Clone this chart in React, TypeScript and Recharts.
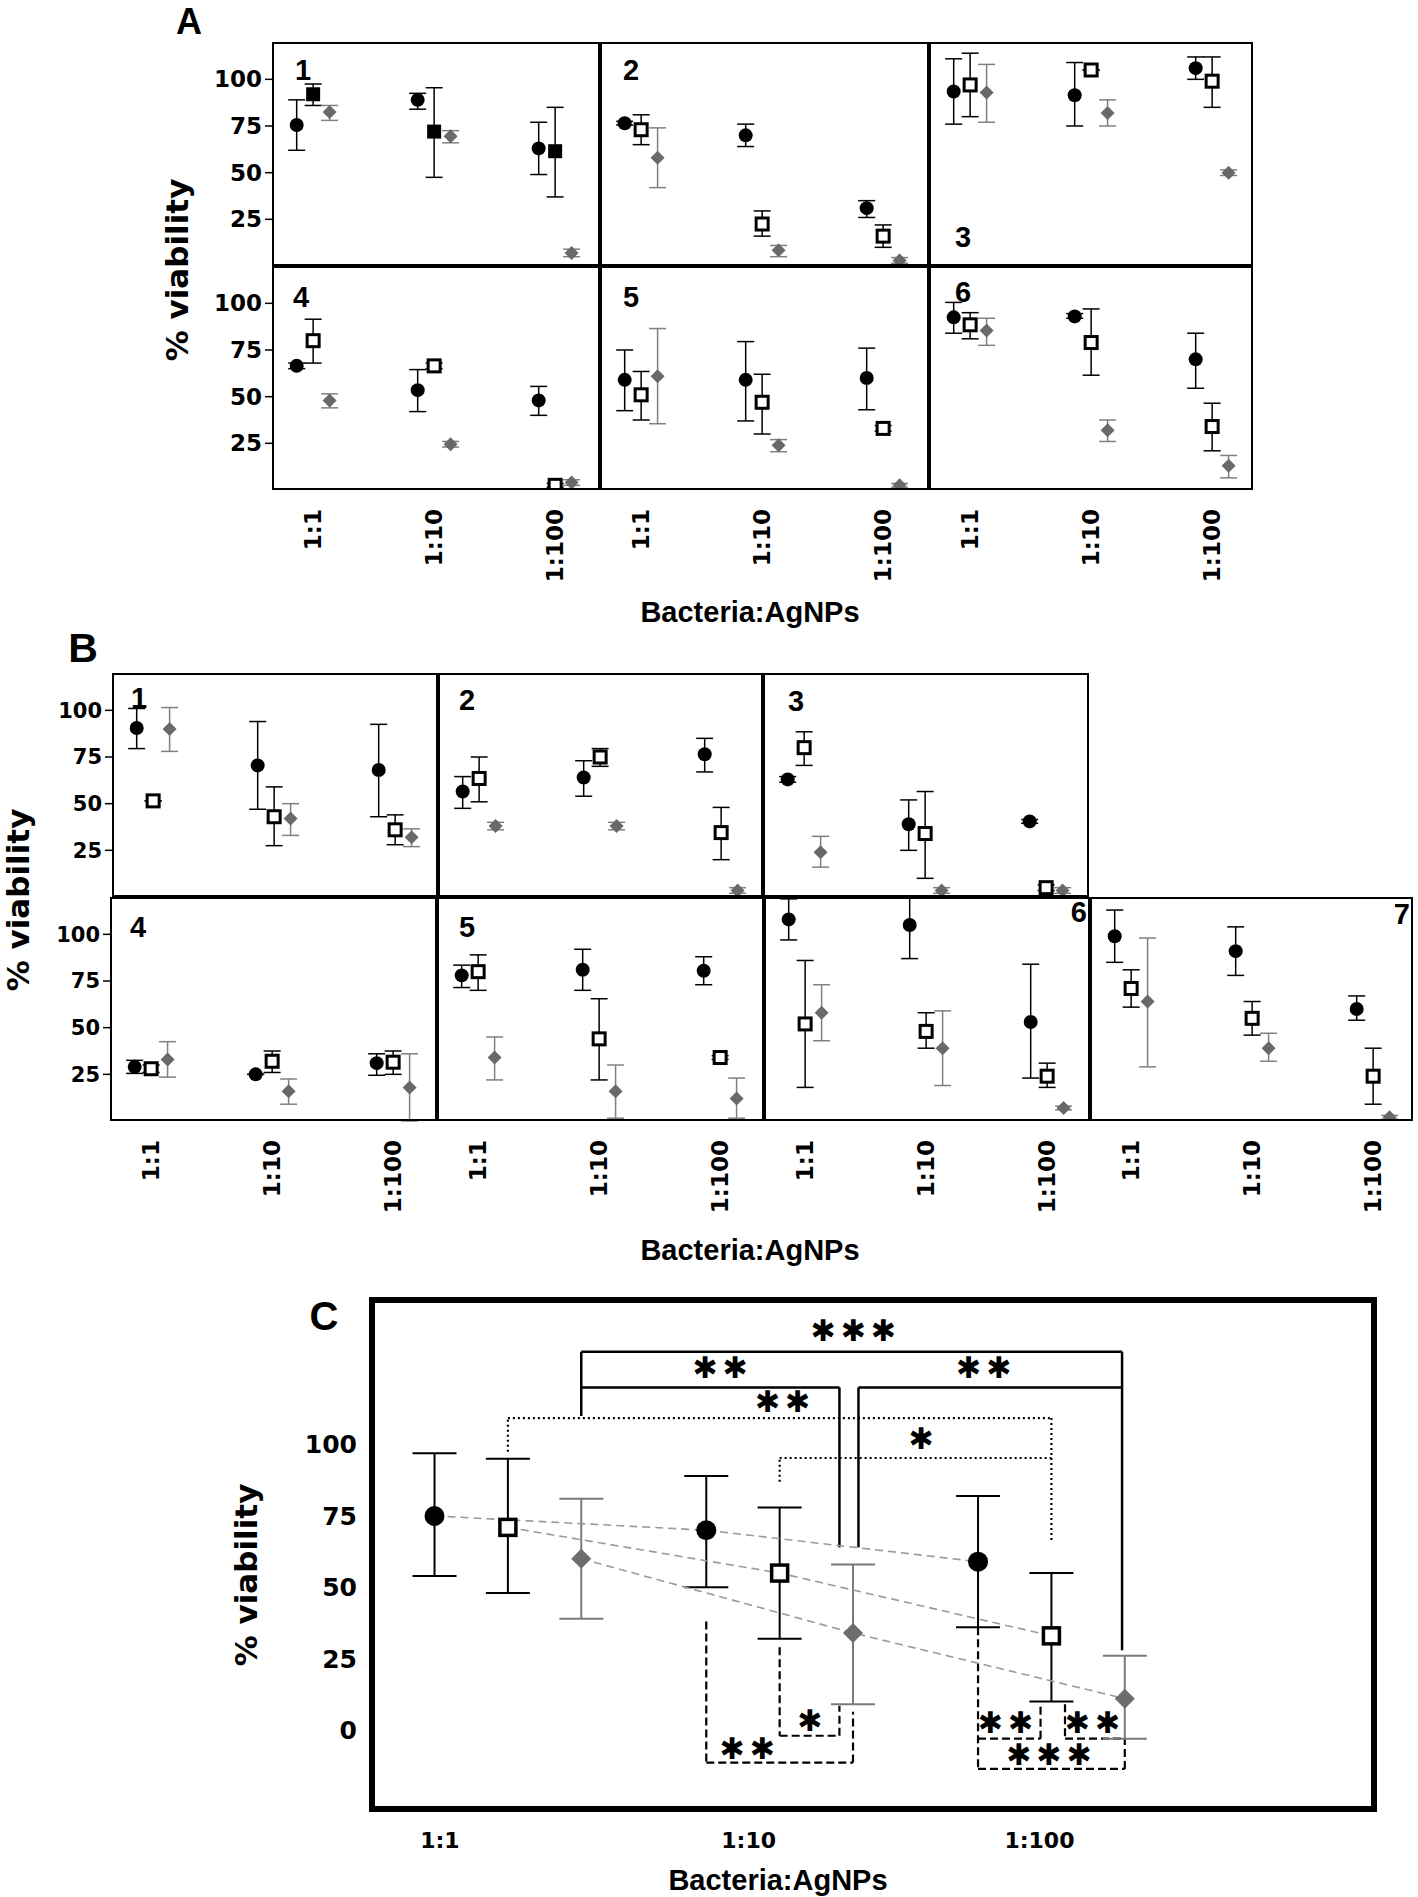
import React from 'react';
import { ScatterChart, Scatter, XAxis, YAxis, ErrorBar, ReferenceLine } from 'recharts';

type Pt = [number, number, number]; // value, lower end, upper end

const CATEGORIES = ['1:1', '1:10', '1:100'];
const Y_TICKS = [25, 50, 75, 100];
const C_Y_TICKS = [0, 25, 50, 75, 100];
const C_X_TICKS = [0.75, 1.886, 2.956];

// ---------- Panel A ----------
const A1_circle: Pt[] = [[75.5, 62, 89], [89, 84, 92.5], [63, 49, 77]];
const A1_square: Pt[] = [[92, 86, 97.5], [72, 47.5, 95.5], [61.5, 37, 85]];
const A1_diamond: Pt[] = [[82.5, 78, 86], [69.5, 66, 72.5], [7, 5, 9]];

const A2_circle: Pt[] = [[76.5, 75.5, 77.5], [70, 64, 76], [31, 26, 35]];
const A2_square: Pt[] = [[73, 65, 81], [22.5, 16, 29.5], [16, 10, 22]];
const A2_diamond: Pt[] = [[58, 42, 74], [8.5, 5, 11], [3, 1.5, 4.5]];

const A3_circle: Pt[] = [[93.5, 76, 111], [91.5, 75, 109], [106, 100, 112]];
const A3_square: Pt[] = [[97, 80, 114], [105, 105, 105], [99, 85, 112]];
const A3_diamond: Pt[] = [[93, 77, 108], [82, 75, 89], [50, 48.5, 51.5]];

const A4_circle: Pt[] = [[66.5, 65, 68], [53.5, 42, 64.5], [48, 40, 55.5]];
const A4_square: Pt[] = [[80, 68, 91.5], [66.5, 65, 68], [2.5, 1.5, 3.5]];
const A4_diamond: Pt[] = [[48, 44, 51.5], [24.5, 23, 26], [4, 2.5, 5.5]];

const A5_circle: Pt[] = [[59, 42.5, 75], [59, 37, 79.5], [60, 43, 76]];
const A5_square: Pt[] = [[51, 37.5, 63.5], [47, 30, 62], [33, 31.5, 34.5]];
const A5_diamond: Pt[] = [[61, 35.5, 86.5], [24, 20.5, 27], [2.5, 1.5, 3.5]];

const A6_circle: Pt[] = [[92.5, 84, 100.5], [93, 92, 94.5], [70, 54.5, 84]];
const A6_square: Pt[] = [[88.5, 81, 95], [79, 61.5, 97], [34, 21, 46.5]];
const A6_diamond: Pt[] = [[85.5, 77.5, 92], [32, 26, 37.5], [13, 6.5, 18.5]];

// ---------- Panel B ----------
const B1_circle: Pt[] = [[90.5, 79.5, 101], [70.5, 47, 94], [68, 43, 92.5]];
const B1_square: Pt[] = [[51.5, 51.5, 51.5], [43, 27.5, 59], [36, 28, 44]];
const B1_diamond: Pt[] = [[90, 78, 101.5], [42, 33, 50], [32, 27, 36.5]];

const B2_circle: Pt[] = [[56.5, 47.5, 64.5], [64, 54, 73], [76.5, 67, 85]];
const B2_square: Pt[] = [[63.5, 51, 75], [75, 70, 79.5], [34.5, 20, 48]];
const B2_diamond: Pt[] = [[38, 36, 40], [38, 36, 40], [3.5, 2, 5]];

const B3_circle: Pt[] = [[63, 61.5, 64.5], [39, 25, 52], [40.5, 39.5, 41.5]];
const B3_square: Pt[] = [[80, 70.5, 88.5], [34, 10, 56.5], [5, 3.5, 6.5]];
const B3_diamond: Pt[] = [[24, 16, 32.5], [3.5, 2, 5], [3.5, 2, 5]];

const B4_circle: Pt[] = [[29, 25.5, 32.5], [25, 25, 25], [31, 24.5, 36]];
const B4_square: Pt[] = [[28, 26, 30], [32, 26, 37.5], [31.5, 25, 37.5]];
const B4_diamond: Pt[] = [[33, 23.5, 42.5], [16, 9, 22.5], [18, 0, 36]];

const B5_circle: Pt[] = [[78, 71.5, 83.5], [81, 70, 92], [80.5, 73, 88]];
const B5_square: Pt[] = [[80, 70, 89], [44, 22, 65.5], [34, 33, 35]];
const B5_diamond: Pt[] = [[34, 22, 45], [16, 1.5, 30], [12, 1.5, 23]];

const B6_circle: Pt[] = [[108, 97, 119], [105, 87, 120], [53, 23, 84]];
const B6_square: Pt[] = [[52, 18, 86], [48, 39, 58], [24, 18, 31]];
const B6_diamond: Pt[] = [[58, 43, 73], [39, 19, 59], [7, 6, 8]];

const B7_circle: Pt[] = [[99, 85, 113], [91, 78, 104], [60, 54, 67]];
const B7_square: Pt[] = [[71, 61, 81], [55, 46, 64], [24, 9, 39]];
const B7_diamond: Pt[] = [[64, 29, 98], [39, 32, 47], [2, 1, 3]];

// ---------- Panel C ----------
const C_circle: Pt[] = [[75, 54, 97], [70, 50, 89], [59, 36, 82]];
const C_square: Pt[] = [[71, 48, 95], [55, 32, 78], [33, 10, 55]];
const C_diamond: Pt[] = [[60, 39, 81], [34, 9, 58], [11, -3, 26]];

type Seg = [number, number, number, number];
const C_SOLID: Seg[] = [
  [1.27, 110, 1.27, 132.5], [1.27, 132.5, 3.26, 132.5], [3.26, 132.5, 3.26, 28],
  [1.27, 120, 2.22, 120], [2.22, 120, 2.22, 64],
  [2.29, 120, 3.26, 120], [2.29, 120, 2.29, 64],
];
const C_DOTTED: Seg[] = [
  [1.0, 97.5, 1.0, 109.3], [1.0, 109.3, 3.0, 109.3], [3.0, 109.3, 3.0, 66],
  [2.0, 87, 2.0, 95.3], [2.0, 95.3, 3.0, 95.3],
];
const C_DASHED: Seg[] = [
  [1.73, 38, 1.73, -11.4], [1.73, -11.4, 2.27, -11.4], [2.27, -11.4, 2.27, 6.4],
  [2.0, 29, 2.0, -2], [2.0, -2, 2.22, -2], [2.22, -2, 2.22, 8.5],
  [2.73, 36, 2.73, -13.6], [2.73, -3, 2.96, -3], [2.96, -3, 2.96, 9],
  [3.05, 9, 3.05, -3], [3.05, -3, 3.27, -3],
  [2.73, -13.6, 3.27, -13.6], [3.27, -13.6, 3.27, -3],
];
const C_STAR_X = [2.28, 1.79, 2.76, 2.02, 2.53, 1.89, 2.12, 2.84, 3.16, 3.0];
const C_STAR_Y = [140, 127, 127, 115, 102, -6.5, 3.5, 2.5, 2.5, -8.5];
const C_STAR_TEXT = ['✱✱✱', '✱✱', '✱✱', '✱✱', '✱', '✱✱', '✱', '✱✱', '✱✱', '✱✱✱'];

// ---------- helpers ----------
const FONT = '"Liberation Sans", Arial, sans-serif';
const WIDE = '"DejaVu Sans", Verdana, sans-serif';
const OFF = 0.136;
const C_OFF = 0.27;
const YW = 72;
const XH = 110;
const PH = 224;

const toRows = (pts: Pt[], off: number) =>
  pts.map((p, i) => ({ x: i + 1 + off, y: p[0], err: [p[0] - p[1], p[2] - p[0]] }));

const CircleShape = (p: any) => <circle cx={p.cx} cy={p.cy} r={7} fill="#000" />;
const OpenSquareShape = (p: any) => (
  <rect x={p.cx - 6} y={p.cy - 6} width={12} height={12} fill="#fff" stroke="#000" strokeWidth={3} />
);
const FilledSquareShape = (p: any) => <rect x={p.cx - 7} y={p.cy - 7} width={14} height={14} fill="#000" />;
const DiamondShape = (p: any) => (
  <polygon
    points={`${p.cx},${p.cy - 7} ${p.cx + 7},${p.cy} ${p.cx},${p.cy + 7} ${p.cx - 7},${p.cy}`}
    fill="#696969"
  />
);
const BigCircle = (p: any) => <circle cx={p.cx} cy={p.cy} r={10} fill="#000" />;
const BigSquare = (p: any) => (
  <rect x={p.cx - 8} y={p.cy - 8} width={16} height={16} fill="#fff" stroke="#000" strokeWidth={3.5} />
);
const BigDiamond = (p: any) => (
  <polygon
    points={`${p.cx},${p.cy - 10} ${p.cx + 10},${p.cy} ${p.cx},${p.cy + 10} ${p.cx - 10},${p.cy}`}
    fill="#6d6d6d"
  />
);
const StarShape = (p: any) => {
  const t = (p.payload && p.payload.t) || p.t;
  return (
    <text x={p.cx} y={p.cy} textAnchor="middle" dominantBaseline="central" fontFamily={WIDE}
      fontSize={30} letterSpacing={5} fill="#000">{t}</text>
  );
};

const rotTick = (props: any) => {
  const { x, y, payload } = props;
  const label = CATEGORIES[Math.round(payload.value) - 1];
  const yy = y + 19;
  return (
    <text x={x} y={yy} transform={`rotate(-90 ${x} ${yy})`} textAnchor="end" dominantBaseline="central"
      fontFamily={WIDE} fontWeight={700} fontSize={23} fill="#000">{label}</text>
  );
};

interface PanelDef {
  left: number; top: number; w: number;
  circle: Pt[]; square: Pt[]; diamond: Pt[];
  filled?: boolean; yAxis?: boolean; xAxis?: boolean; yFont: number;
}

function Panel({ d }: { d: PanelDef }) {
  const chartLeft = d.left - (d.yAxis ? YW : 0);
  const width = d.w + (d.yAxis ? YW : 0);
  const height = PH + (d.xAxis ? XH : 0);
  const domain: [number, number] = [0.66, 0.66 + d.w / 121];
  return (
    <div style={{ position: 'absolute', left: chartLeft, top: d.top }}>
      <ScatterChart width={width} height={height} margin={{ top: 0, right: 0, bottom: 0, left: 0 }}>
        <XAxis type="number" dataKey="x" domain={domain} allowDataOverflow hide={!d.xAxis}
          ticks={[1, 2, 3]} interval={0} height={XH} tickSize={0} tickMargin={0}
          axisLine={false} tickLine={false} tick={rotTick} />
        <YAxis type="number" dataKey="y" domain={[0, 120]} allowDataOverflow hide={!d.yAxis}
          width={YW} ticks={Y_TICKS} interval={0} tickSize={7} tickMargin={3} axisLine={false}
          tickLine={{ stroke: '#000', strokeWidth: 1.5 }}
          tick={{ fill: '#000', fontSize: d.yFont, fontWeight: 700, fontFamily: WIDE }} />
        <Scatter data={toRows(d.circle, -OFF)} shape={CircleShape} isAnimationActive={false}>
          <ErrorBar dataKey="err" direction="y" width={8.5} stroke="#000" strokeWidth={1.5} />
        </Scatter>
        <Scatter data={toRows(d.square, 0)} shape={d.filled ? FilledSquareShape : OpenSquareShape} isAnimationActive={false}>
          <ErrorBar dataKey="err" direction="y" width={8.5} stroke="#000" strokeWidth={1.5} />
        </Scatter>
        <Scatter data={toRows(d.diamond, OFF)} shape={DiamondShape} isAnimationActive={false}>
          <ErrorBar dataKey="err" direction="y" width={8.5} stroke="#808080" strokeWidth={1.5} />
        </Scatter>
      </ScatterChart>
      <div style={{ position: 'absolute', left: d.yAxis ? YW : 0, top: 0, width: d.w, height: PH,
        border: '2.5px solid #000', boxSizing: 'border-box', pointerEvents: 'none' }} />
    </div>
  );
}

const PANELS: PanelDef[] = [
  { left: 272, top: 42, w: 328, circle: A1_circle, square: A1_square, diamond: A1_diamond, filled: true, yAxis: true, yFont: 23 },
  { left: 600, top: 42, w: 329, circle: A2_circle, square: A2_square, diamond: A2_diamond, yFont: 23 },
  { left: 929, top: 42, w: 324, circle: A3_circle, square: A3_square, diamond: A3_diamond, yFont: 23 },
  { left: 272, top: 266, w: 328, circle: A4_circle, square: A4_square, diamond: A4_diamond, yAxis: true, xAxis: true, yFont: 23 },
  { left: 600, top: 266, w: 329, circle: A5_circle, square: A5_square, diamond: A5_diamond, xAxis: true, yFont: 23 },
  { left: 929, top: 266, w: 324, circle: A6_circle, square: A6_square, diamond: A6_diamond, xAxis: true, yFont: 23 },
  { left: 112, top: 673, w: 326, circle: B1_circle, square: B1_square, diamond: B1_diamond, yAxis: true, yFont: 21 },
  { left: 438, top: 673, w: 325, circle: B2_circle, square: B2_square, diamond: B2_diamond, yFont: 21 },
  { left: 763, top: 673, w: 326, circle: B3_circle, square: B3_square, diamond: B3_diamond, yFont: 21 },
  { left: 110, top: 897, w: 327, circle: B4_circle, square: B4_square, diamond: B4_diamond, yAxis: true, xAxis: true, yFont: 21 },
  { left: 437, top: 897, w: 327, circle: B5_circle, square: B5_square, diamond: B5_diamond, xAxis: true, yFont: 21 },
  { left: 764, top: 897, w: 326, circle: B6_circle, square: B6_square, diamond: B6_diamond, xAxis: true, yFont: 21 },
  { left: 1090, top: 897, w: 323, circle: B7_circle, square: B7_square, diamond: B7_diamond, xAxis: true, yFont: 21 },
];

const PANEL_NUMBERS = ['1', '2', '3', '4', '5', '6', '1', '2', '3', '4', '5', '6', '7'];
const NUM_POS: [number, number, 'start' | 'end'][] = [
  [295, 80, 'start'], [623, 80, 'start'], [955, 247, 'start'],
  [293, 307, 'start'], [623, 307, 'start'], [955, 302, 'start'],
  [131, 708, 'start'], [459, 710, 'start'], [788, 711, 'start'],
  [130, 937, 'start'], [459, 937, 'start'], [1087, 922, 'end'], [1410, 924, 'end'],
];

// Panel C geometry
const C_LEFT = 375, C_TOP = 1303, C_W = 996, C_H = 503;
const C_YW = 100, C_XH = 80;

const cTick = (props: any) => {
  const { x, y, index } = props;
  return (
    <text x={x} y={y + 34} textAnchor="middle" dominantBaseline="central" fontFamily={WIDE}
      fontWeight={700} fontSize={22} fill="#000">{CATEGORIES[index]}</text>
  );
};

function PanelC() {
  const starRows = C_STAR_X.map((x, i) => ({ x, y: C_STAR_Y[i], t: C_STAR_TEXT[i] }));
  return (
    <div style={{ position: 'absolute', left: C_LEFT - C_YW, top: C_TOP }}>
      <ScatterChart width={C_W + C_YW} height={C_H + C_XH} margin={{ top: 0, right: 0, bottom: 0, left: 0 }}>
        <XAxis type="number" dataKey="x" domain={[0.511, 4.176]} allowDataOverflow ticks={C_X_TICKS}
          interval={0} height={C_XH} tickSize={0} tickMargin={0} axisLine={false} tickLine={false} tick={cTick} />
        <YAxis type="number" dataKey="y" domain={[-26.6, 149.6]} allowDataOverflow ticks={C_Y_TICKS}
          interval={0} width={C_YW} tickSize={0} tickMargin={18} axisLine={false} tickLine={false}
          tick={{ fill: '#000', fontSize: 25, fontWeight: 700, fontFamily: WIDE }} />
        {C_SOLID.map((s, i) => (
          <ReferenceLine key={'s' + i} segment={[{ x: s[0], y: s[1] }, { x: s[2], y: s[3] }]}
            stroke="#000" strokeWidth={2.5} ifOverflow="visible" />
        ))}
        {C_DOTTED.map((s, i) => (
          <ReferenceLine key={'d' + i} segment={[{ x: s[0], y: s[1] }, { x: s[2], y: s[3] }]}
            stroke="#000" strokeWidth={2.2} strokeDasharray="2 3" ifOverflow="visible" />
        ))}
        {C_DASHED.map((s, i) => (
          <ReferenceLine key={'h' + i} segment={[{ x: s[0], y: s[1] }, { x: s[2], y: s[3] }]}
            stroke="#000" strokeWidth={2.2} strokeDasharray="8 4" ifOverflow="visible" />
        ))}
        <Scatter data={toRows(C_circle, -C_OFF)} shape={BigCircle} isAnimationActive={false}
          line={{ stroke: '#9a9a9a', strokeWidth: 1.6, strokeDasharray: '8 5' }} lineType="joint">
          <ErrorBar dataKey="err" direction="y" width={22} stroke="#000" strokeWidth={2} />
        </Scatter>
        <Scatter data={toRows(C_square, 0)} shape={BigSquare} isAnimationActive={false}
          line={{ stroke: '#9a9a9a', strokeWidth: 1.6, strokeDasharray: '8 5' }} lineType="joint">
          <ErrorBar dataKey="err" direction="y" width={22} stroke="#000" strokeWidth={2} />
        </Scatter>
        <Scatter data={toRows(C_diamond, C_OFF)} shape={BigDiamond} isAnimationActive={false}
          line={{ stroke: '#9a9a9a', strokeWidth: 1.6, strokeDasharray: '8 5' }} lineType="joint">
          <ErrorBar dataKey="err" direction="y" width={22} stroke="#7a7a7a" strokeWidth={2} />
        </Scatter>
        <Scatter data={starRows} shape={StarShape} isAnimationActive={false} />
      </ScatterChart>
      <div style={{ position: 'absolute', left: C_YW - 6, top: -6, width: C_W + 12, height: C_H + 12,
        border: '6px solid #000', boxSizing: 'border-box', pointerEvents: 'none' }} />
    </div>
  );
}

export default function App() {
  return (
    <div style={{ position: 'absolute', left: 0, top: 0, width: 1418, height: 1897, background: '#fff', fontFamily: FONT }}>
      {PANELS.map((d, i) => <Panel key={i} d={d} />)}
      <PanelC />
      <svg width={1418} height={1897} style={{ position: 'absolute', left: 0, top: 0, pointerEvents: 'none' }}>
        <g fontFamily={FONT} fontWeight={700} fill="#000">
          <text x={189} y={34} fontSize={36} textAnchor="middle">A</text>
          <text x={83} y={662} fontSize={41} textAnchor="middle">B</text>
          <text x={324} y={1330} fontSize={40} textAnchor="middle">C</text>
          {PANEL_NUMBERS.map((n, i) => (
            <text key={i} x={NUM_POS[i][0]} y={NUM_POS[i][1]} fontSize={29} textAnchor={NUM_POS[i][2]}>{n}</text>
          ))}
          <text x={750} y={612} fontSize={29} textAnchor="middle" dominantBaseline="central">Bacteria:AgNPs</text>
          <text x={750} y={1250} fontSize={29} textAnchor="middle" dominantBaseline="central">Bacteria:AgNPs</text>
          <text x={778} y={1880} fontSize={29} textAnchor="middle" dominantBaseline="central">Bacteria:AgNPs</text>
        </g>
        <g fontFamily={WIDE} fontWeight={700} fill="#000" fontSize={31}>
          <text x={177} y={270} transform="rotate(-90 177 270)" textAnchor="middle" dominantBaseline="central">% viability</text>
          <text x={18} y={900} transform="rotate(-90 18 900)" textAnchor="middle" dominantBaseline="central">% viability</text>
          <text x={246} y={1575} transform="rotate(-90 246 1575)" textAnchor="middle" dominantBaseline="central">% viability</text>
        </g>
      </svg>
    </div>
  );
}
